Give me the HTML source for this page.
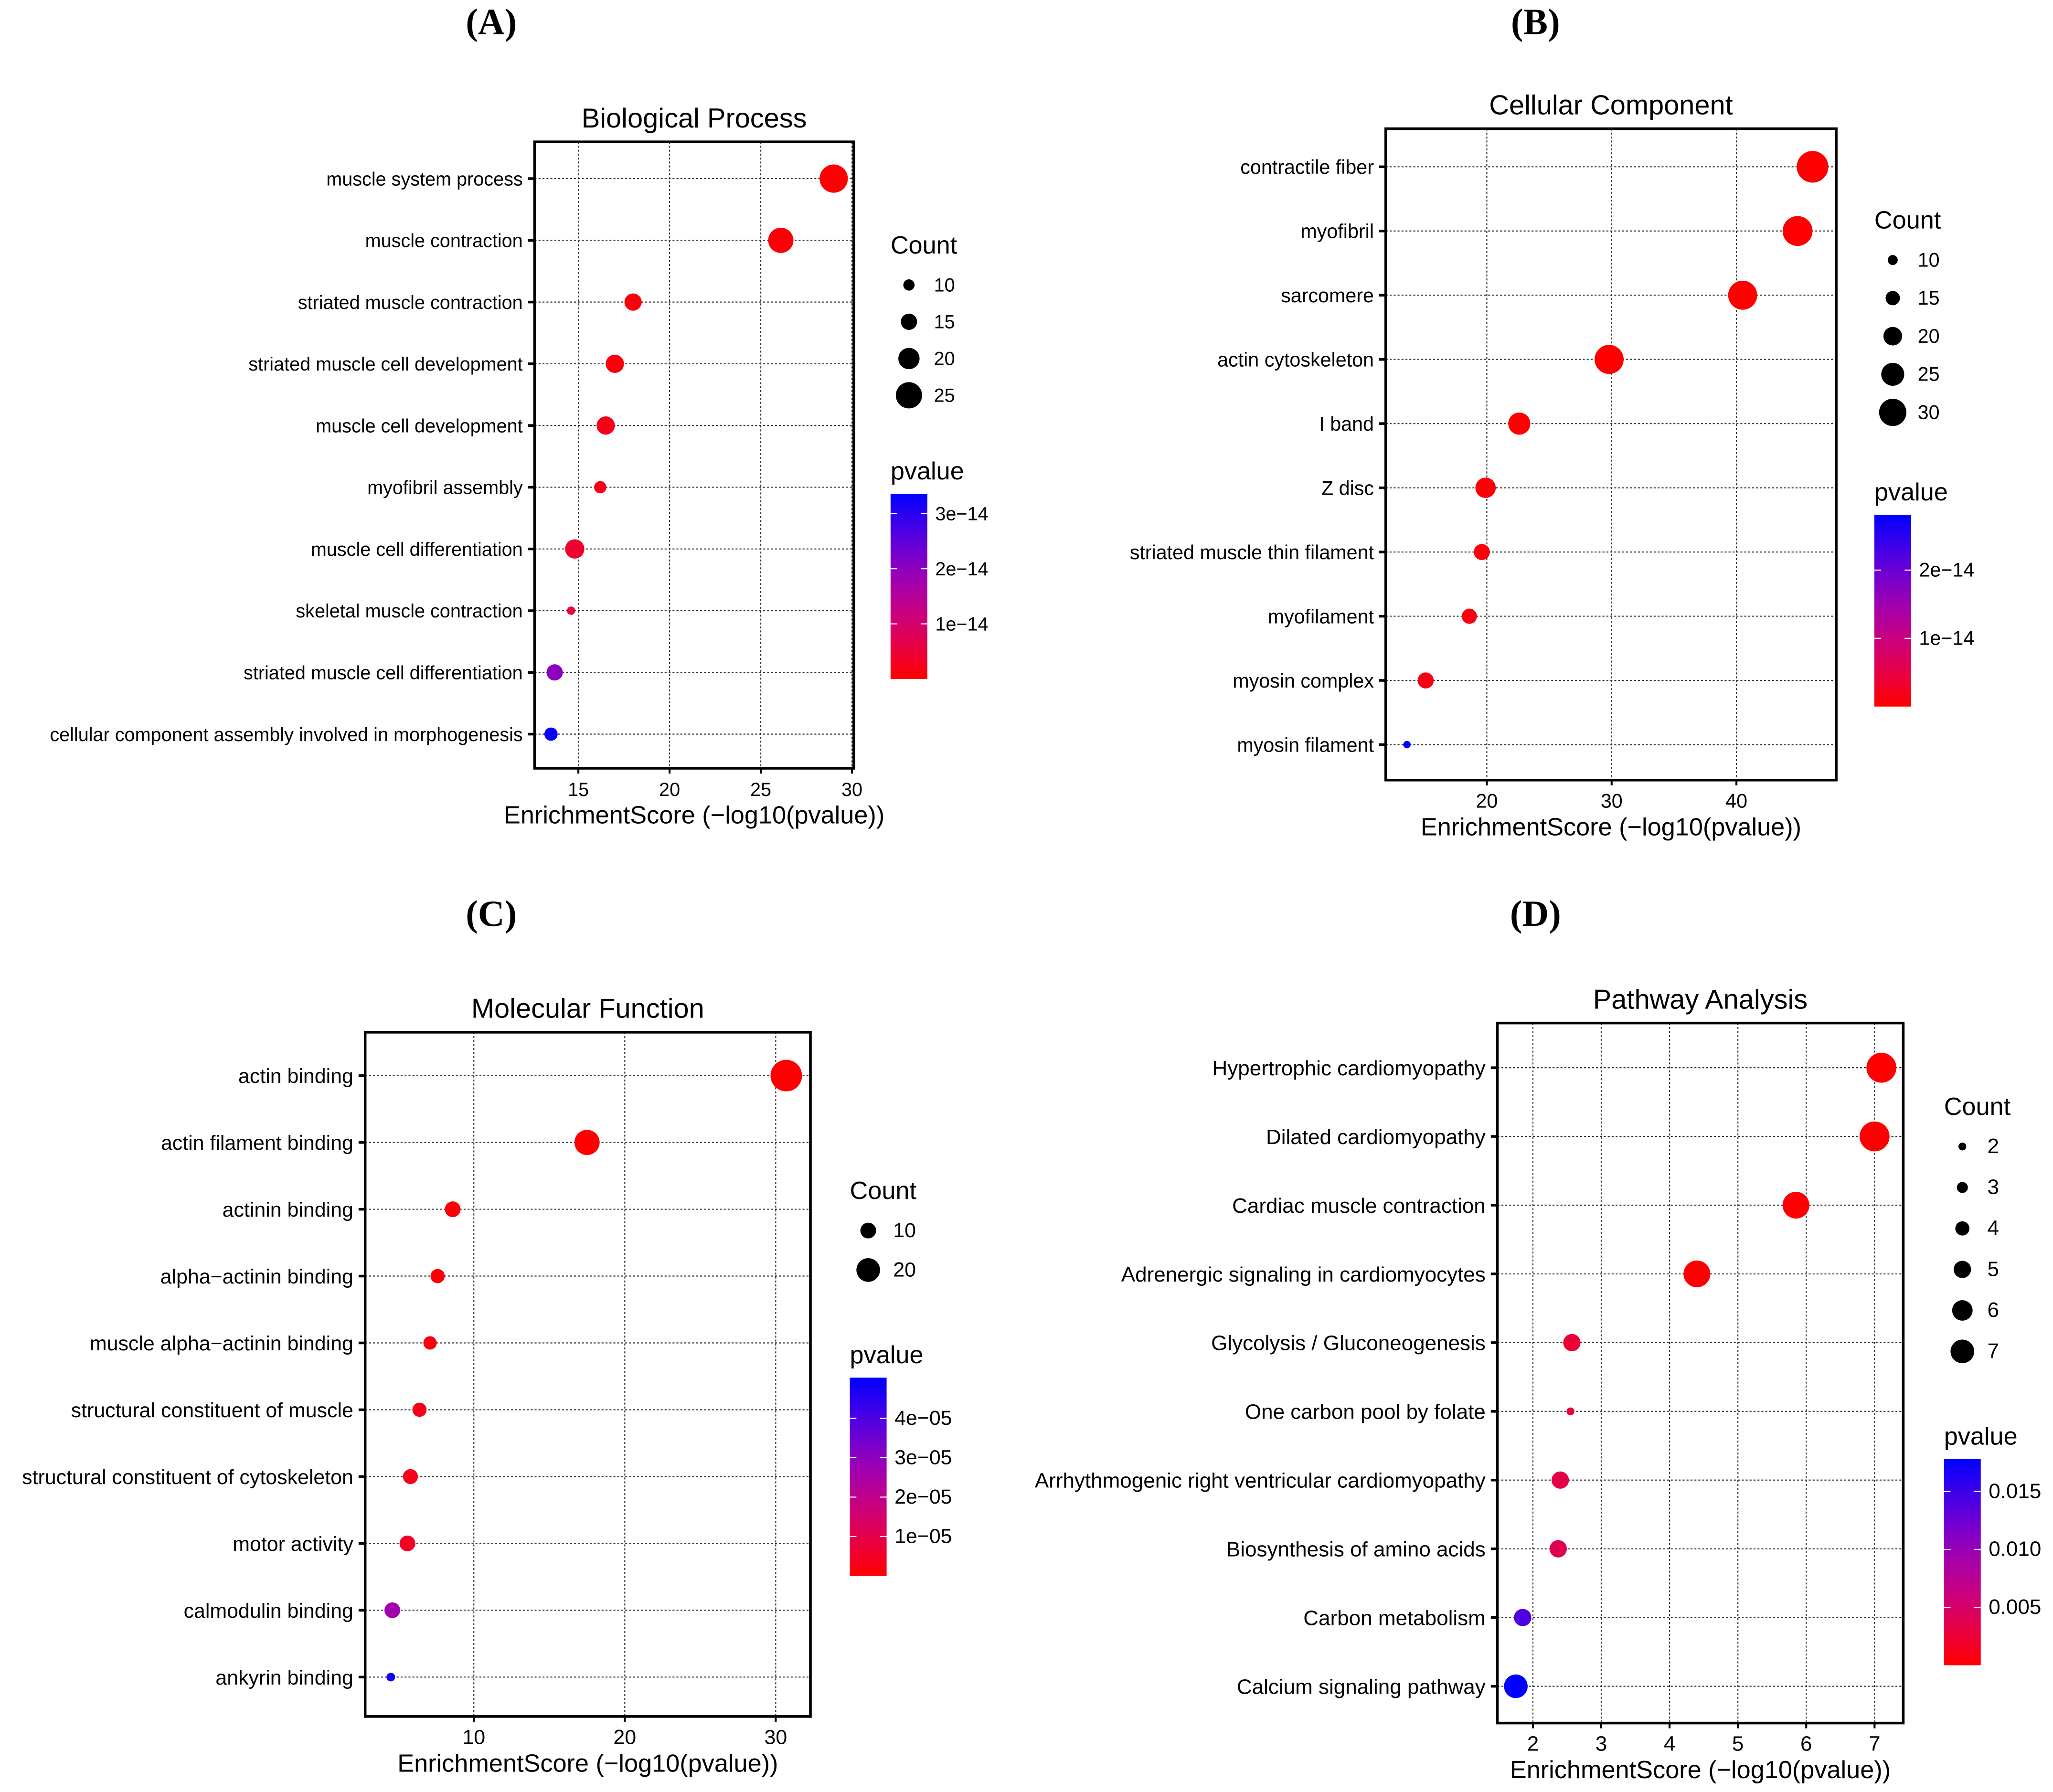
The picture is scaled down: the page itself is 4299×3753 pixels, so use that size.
<!DOCTYPE html>
<html><head><meta charset="utf-8"><style>
html,body{margin:0;padding:0;background:#fff;}
svg{display:block;font-family:"Liberation Sans",Arial,sans-serif;}
</style></head><body>
<svg id="fig" width="4299" height="3753" viewBox="0 0 1563 1364.5" xmlns="http://www.w3.org/2000/svg"></svg>
<script>
// Panel A data
const bpTerms=["muscle system process","muscle contraction","striated muscle contraction","striated muscle cell development","muscle cell development","myofibril assembly","muscle cell differentiation","skeletal muscle contraction","striated muscle cell differentiation","cellular component assembly involved in morphogenesis"];
const bpScore=[29.0,26.1,18.0,17.0,16.5,16.2,14.8,14.6,13.7,13.5];
const bpCount=[27,24,16,17,17,11,18,7,15,12];
const bpP=[0.02e-14,0.05e-14,0.1e-14,0.1e-14,0.2e-14,0.2e-14,0.4e-14,0.5e-14,2.0e-14,3.3e-14];
const bpXTicks=[15,20,25,30];
const bpCountTicks=[10,15,20,25];
const bpPTicks=[1e-14,2e-14,3e-14];
const bpPTickLabels=["1e\u221214","2e\u221214","3e\u221214"];
// Panel B data
const ccTerms=["contractile fiber","myofibril","sarcomere","actin cytoskeleton","I band","Z disc","striated muscle thin filament","myofilament","myosin complex","myosin filament"];
const ccScore=[46.1,44.9,40.5,29.8,22.6,19.9,19.6,18.6,15.1,13.6];
const ccCount=[35,33,32,32,24,22,17,16,17,7];
const ccP=[0,0,0,0,0.03e-14,0.05e-14,0.05e-14,0.1e-14,0.15e-14,2.8e-14];
const ccXTicks=[20,30,40];
const ccCountTicks=[10,15,20,25,30];
const ccPTicks=[1e-14,2e-14];
const ccPTickLabels=["1e\u221214","2e\u221214"];
// Panel C data
const mfTerms=["actin binding","actin filament binding","actinin binding","alpha\u2212actinin binding","muscle alpha\u2212actinin binding","structural constituent of muscle","structural constituent of cytoskeleton","motor activity","calmodulin binding","ankyrin binding"];
const mfScore=[30.7,17.5,8.6,7.6,7.1,6.4,5.8,5.6,4.6,4.5];
const mfCount=[30,22,10,8,7,8,9,10,10,1];
const mfP=[0,0,0.1e-5,0.15e-5,0.2e-5,0.3e-5,0.4e-5,0.5e-5,2.6e-5,4.8e-5];
const mfXTicks=[10,20,30];
const mfCountTicks=[10,20];
const mfPTicks=[1e-5,2e-5,3e-5,4e-5];
const mfPTickLabels=["1e\u221205","2e\u221205","3e\u221205","4e\u221205"];
// Panel D data
const kgTerms=["Hypertrophic cardiomyopathy","Dilated cardiomyopathy","Cardiac muscle contraction","Adrenergic signaling in cardiomyocytes","Glycolysis / Gluconeogenesis","One carbon pool by folate","Arrhythmogenic right ventricular cardiomyopathy","Biosynthesis of amino acids","Carbon metabolism","Calcium signaling pathway"];
const kgScore=[7.1,7.0,5.85,4.4,2.57,2.55,2.4,2.37,1.85,1.75];
const kgCount=[9,9,8,8,5,2,5,5,5,7];
const kgP=[0.0,0.0,0.0001,0.0002,0.0025,0.0026,0.0035,0.0038,0.0141,0.0178];
const kgXTicks=[2,3,4,5,6,7];
const kgCountTicks=[2,3,4,5,6,7];
const kgPTicks=[0.005,0.010,0.015];
const kgPTickLabels=["0.005","0.010","0.015"];

const NS="http://www.w3.org/2000/svg";
const svg=document.getElementById('fig');
function mk(tag,attrs,parent,text){const e=document.createElementNS(NS,tag);for(const k in attrs)e.setAttribute(k,attrs[k]);if(text!==undefined)e.textContent=text;(parent||svg).appendChild(e);return e;}
function col(t){t=Math.max(0,Math.min(1,t));const mid=Math.sin(Math.PI*t)*40;return `rgb(${Math.min(255,Math.round(255*(1-t)+mid))},0,${Math.min(255,Math.round(255*t+mid))})`;}

function panel(cfg){
  const g=mk('g',{});
  
  
  const {L,R,T,B,x0,x1,rows,terms,score,count,pv,xt,ct,cy,pt,ptl,pmax,cb,rA,rB,lgx,fs}=cfg;
  const xs=v=>L+(v-x0)/(x1-x0)*(R-L);
  const ys=i=>rows[0]+i*(rows[1]-rows[0])/(terms.length-1);
  const rs=c=>rA+rB*c;
  const pl=mk('text',{x:(cfg.letterX),y:cfg.letterY,'text-anchor':'middle','font-family':'"Liberation Serif",serif','font-weight':'bold','font-size':28},g,cfg.letter);
  
  const tt=mk('text',{x:(L+R)/2,y:T-11,'text-anchor':'middle','font-size':21},g,cfg.title);
  
  xt.forEach(v=>{const l=mk('line',{x1:xs(v),x2:xs(v),y1:T,y2:B,stroke:'#333','stroke-width':0.8,'stroke-dasharray':'1.5,1.5'},g);});
  terms.forEach((t,i)=>{const l=mk('line',{x1:L,x2:R,y1:ys(i),y2:ys(i),stroke:'#333','stroke-width':0.8,'stroke-dasharray':'1.5,1.5'},g);});
  terms.forEach((t,i)=>{const c=mk('circle',{cx:xs(score[i]),cy:ys(i),r:rs(count[i]),fill:col(pv[i]/pmax)},g);});
  const fr=mk('rect',{x:L,y:T,width:R-L,height:B-T,fill:'none',stroke:'#000','stroke-width':2},g);
  
  terms.forEach((t,i)=>{mk('line',{x1:L-5,x2:L,y1:ys(i),y2:ys(i),stroke:'#000','stroke-width':2},g);const tx=mk('text',{x:L-9,y:ys(i)+fs*0.36,'text-anchor':'end','font-size':fs},g,t);});
  xt.forEach(v=>{mk('line',{x1:xs(v),x2:xs(v),y1:B,y2:B+4,stroke:'#000','stroke-width':1.5},g);const tx=mk('text',{x:xs(v),y:B+21,'text-anchor':'middle','font-size':fs},g,v);});
  const xa=mk('text',{x:(L+R)/2,y:B+42,'text-anchor':'middle','font-size':19},g,'EnrichmentScore (\u2212log10(pvalue))');
  
  const lt=mk('text',{x:lgx,y:cy[0]-24,'font-size':19},g,'Count');
  ct.forEach((c,i)=>{const y=cy[0]+i*(cy[1]-cy[0])/(ct.length-1);const cc=mk('circle',{cx:lgx+14,cy:y,r:rs(c),fill:'#000'},g);mk('text',{x:lgx+33,y:y+5,'font-size':fs},g,c);});
  const gid='grad'+cfg.letter.replace(/\W/g,'');
  const defs=mk('defs',{},g);const lg=mk('linearGradient',{id:gid,x1:0,y1:1,x2:0,y2:0},defs);
  for(let k=0;k<=10;k++)mk('stop',{offset:k/10,'stop-color':col(k/10)},lg);
  const [cT,cB]=cb;
  const pt0=mk('text',{x:lgx,y:cT-11,'font-size':19},g,'pvalue');
  const bar=mk('rect',{x:lgx,y:cT,width:28,height:cB-cT,fill:`url(#${gid})`},g);
  pt.forEach((p,i)=>{const y=cB-(p/pmax)*(cB-cT);mk('line',{x1:lgx,x2:lgx+5,y1:y,y2:y,stroke:'#fff','stroke-width':0.8},g);mk('line',{x1:lgx+23,x2:lgx+28,y1:y,y2:y,stroke:'#fff','stroke-width':0.8},g);const tx=mk('text',{x:lgx+34,y:y+5,'font-size':fs},g,ptl[i]);});
}
panel({name:'panel-a-biological-process',letter:'(A)',letterX:374,letterY:26,title:'Biological Process',L:407,R:650,T:108,B:585,x0:12.6,x1:30.1,rows:[136,559],terms:bpTerms,score:bpScore,count:bpCount,pv:bpP,xt:bpXTicks,ct:bpCountTicks,cy:[217,301],pt:bpPTicks,ptl:bpPTickLabels,pmax:3.36e-14,cb:[376,517],rA:0.5,rB:0.38,lgx:678,fs:14.4});
panel({name:'panel-b-cellular-component',letter:'(B)',letterX:1169,letterY:26,title:'Cellular Component',L:1055,R:1398,T:98,B:594,x0:11.9,x1:48.0,rows:[127,567],terms:ccTerms,score:ccScore,count:ccCount,pv:ccP,xt:ccXTicks,ct:ccCountTicks,cy:[198,314],pt:ccPTicks,ptl:ccPTickLabels,pmax:2.81e-14,cb:[392,538],rA:0.5,rB:0.33,lgx:1427,fs:15});
panel({name:'panel-c-molecular-function',letter:'(C)',letterX:374,letterY:705,title:'Molecular Function',L:278,R:617,T:786,B:1307,x0:2.8,x1:32.3,rows:[819,1277],terms:mfTerms,score:mfScore,count:mfCount,pv:mfP,xt:mfXTicks,ct:mfCountTicks,cy:[937,967],pt:mfPTicks,ptl:mfPTickLabels,pmax:5.03e-5,cb:[1049,1200],rA:3,rB:0.3,lgx:647,fs:15.6});
panel({name:'panel-d-pathway-analysis',letter:'(D)',letterX:1169,letterY:705,title:'Pathway Analysis',L:1140,R:1449,T:779,B:1312,x0:1.48,x1:7.42,rows:[813,1284],terms:kgTerms,score:kgScore,count:kgCount,pv:kgP,xt:kgXTicks,ct:kgCountTicks,cy:[873,1029],pt:kgPTicks,ptl:kgPTickLabels,pmax:0.0178,cb:[1111,1268],rA:0.6,rB:1.2,lgx:1480,fs:16});
</script>
</body></html>
